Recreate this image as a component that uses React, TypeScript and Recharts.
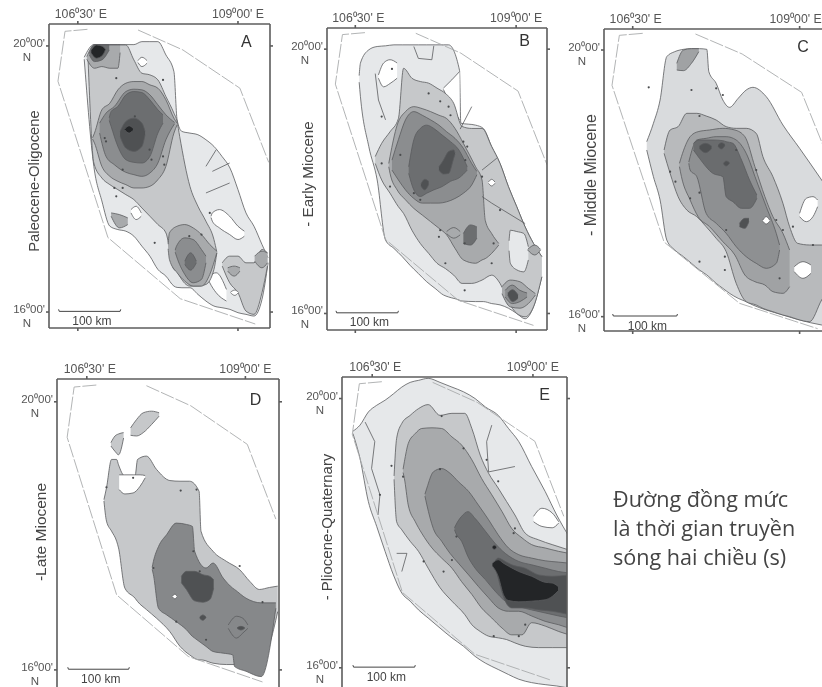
import React from 'react';
import { ComposedChart, Area, Line, XAxis, YAxis, ReferenceDot } from 'recharts';

// [longitude, lower latitude, upper latitude]
type Row = [number, number, number];
type Pt = [number, number];

const lonTicks = [106.5, 109];
const latTicks = [16, 20];
const lonLabels = ["106⁰30' E", "109⁰00' E"];
const latLabels = ["16⁰00'", "20⁰00'"];

// survey outline, the same on all five maps
const outlineEast: Pt[] = [[107.44, 20.24], [108.14, 19.94], [109.03, 19.365], [109.48, 18.25]];
const outlineWest: Pt[] = [[106.65, 20.25], [106.3, 20.22], [106.19, 19.47], [106.97, 17.12], [108.1, 16.2], [109.27, 15.82]];
const scaleBar: Pt[] = [[106.2, 16.04], [106.21, 16.01], [107.16, 16.01], [107.17, 16.04]];

const WHITE = '#ffffff';
const S1 = '#e6e8ea';
const S2 = '#c6c8ca';
const S3 = '#a8aaac';
const S4 = '#8b8d8f';
const S5 = '#6c6e70';
const S6 = '#4f5153';
const S7 = '#232527';
// panel C and D run a little darker
const C1 = '#d9dbdd';
const C2 = '#b8babc';
const C3 = '#a0a2a4';
const C4 = '#8e9092';
const C5 = '#6a6c6e';
const D2 = '#86888a';

// panel A
const a1: Row[] = [[106.6, 19.8, 19.83], [106.75, 18.19, 20.02], [106.875, 17.67, 20.02], [107, 17.29, 20.02], [107.125, 17.24, 20.02], [107.25, 17.215, 20.02], [107.375, 17.14, 20.02], [107.5, 16.99, 20.065], [107.625, 16.84, 20.065], [107.75, 16.64, 20.065], [107.875, 16.54, 19.865], [108, 16.39, 19.615], [108.05, 16.37, 18.89], [108.125, 16.365, 18.715], [108.25, 16.365, 18.69], [108.375, 16.265, 18.665], [108.5, 16.165, 18.59], [108.625, 16.09, 18.49], [108.75, 16.065, 18.34], [108.875, 16.04, 18.165], [109, 15.99, 17.84], [109.125, 15.965, 17.49], [109.25, 15.94, 17.29], [109.375, 16.19, 17.015], [109.47, 16.74, 16.815]];
const aHole1: Row[] = [[107.44, 19.75, 19.78], [107.5, 19.69, 19.83], [107.58, 19.74, 19.78]];
const aHole2: Row[] = [[107.33, 17.49, 17.54], [107.41, 17.39, 17.59], [107.49, 17.44, 17.49]];
const aHole3: Row[] = [[108.58, 17.42, 17.44], [108.6, 17.365, 17.49], [108.71, 17.265, 17.54], [108.87, 17.165, 17.44], [109, 17.09, 17.29], [109.1, 17.14, 17.215]];
const aHole4: Row[] = [[108.54, 16.48, 16.5], [108.56, 16.44, 16.54], [108.66, 16.29, 16.59], [108.82, 16.165, 16.34]];
const a2: Row[] = [[106.66, 19.79, 19.84], [106.75, 18.24, 20.015], [106.875, 18.015, 20.015], [107, 17.915, 20.015], [107.125, 17.84, 20.015], [107.25, 17.765, 20.015], [107.375, 17.69, 19.79], [107.5, 17.565, 19.59], [107.625, 17.44, 19.565], [107.75, 17.315, 19.49], [107.875, 17.19, 19.24], [108, 16.64, 18.99], [108.05, 16.615, 18.865], [108.09, 16.54, 18.64], [108.25, 16.39, 17.89], [108.375, 16.39, 17.59], [108.5, 16.415, 17.365], [108.625, 16.64, 17.09], [108.67, 16.89, 16.9]];
const a3: Row[] = [[106.73, 18.6, 18.62], [106.76, 18.54, 18.69], [106.875, 18.19, 19.04], [107, 18.04, 19.14], [107.125, 17.965, 19.34], [107.25, 17.915, 19.44], [107.375, 17.865, 19.465], [107.5, 17.865, 19.465], [107.625, 17.89, 19.415], [107.75, 17.99, 19.365], [107.875, 18.19, 19.19], [108, 18.69, 18.915], [108.05, 18.815, 18.84]];
const a4: Row[] = [[106.84, 18.69, 18.84], [106.94, 18.34, 18.99], [107.07, 18.215, 19.09], [107.25, 18.1, 19.315], [107.375, 18.065, 19.35], [107.5, 18.04, 19.34], [107.625, 18.09, 19.265], [107.75, 18.24, 19.115], [107.875, 18.59, 18.965], [108.01, 18.83, 18.85]];
const a5: Row[] = [[106.99, 18.88, 18.92], [107.02, 18.79, 19.015], [107.125, 18.49, 19.09], [107.25, 18.29, 19.265], [107.375, 18.25, 19.315], [107.5, 18.24, 19.3], [107.625, 18.34, 19.19], [107.75, 18.69, 19.04], [107.83, 18.84, 18.965]];
const a6: Row[] = [[107.16, 18.64, 18.715], [107.25, 18.465, 18.865], [107.375, 18.415, 18.915], [107.5, 18.49, 18.84], [107.55, 18.665, 18.715]];
const a7: Row[] = [[107.23, 18.74, 18.75], [107.3, 18.69, 18.8], [107.36, 18.73, 18.765]];
const aCap3: Row[] = [[106.64, 19.8, 19.84], [106.76, 19.665, 20.015], [106.875, 19.69, 20.015], [107, 19.665, 20.015], [107.125, 19.665, 20.015], [107.16, 19.9, 20.015]];
const aCap5: Row[] = [[106.68, 19.865, 19.89], [106.76, 19.765, 20.015], [106.875, 19.79, 20.015], [106.99, 19.94, 20.015]];
const aCap7: Row[] = [[106.71, 19.89, 19.94], [106.79, 19.815, 20.015], [106.89, 19.865, 19.99], [106.93, 19.94, 19.95]];
const aLow3: Row[] = [[107.91, 16.95, 17.02], [107.93, 16.79, 17.19], [108.05, 16.59, 17.29], [108.17, 16.465, 17.315], [108.3, 16.39, 17.265], [108.43, 16.39, 17.165], [108.56, 16.565, 17.015], [108.67, 16.89, 16.915]];
const aLow4: Row[] = [[108.02, 16.9, 16.93], [108.04, 16.84, 16.99], [108.17, 16.565, 17.115], [108.3, 16.44, 17.09], [108.43, 16.49, 16.94], [108.5, 16.74, 16.84]];
const aLow5: Row[] = [[108.17, 16.715, 16.765], [108.26, 16.63, 16.89], [108.35, 16.74, 16.765]];
const aEast2: Row[] = [[108.755, 16.69, 16.74], [108.87, 16.44, 16.84], [109, 16.29, 16.84], [109.125, 16.015, 16.74], [109.25, 15.965, 16.74], [109.375, 16.29, 16.94], [109.46, 16.69, 16.89]];
const aEast3: Row[] = [[109.26, 16.765, 16.84], [109.375, 16.665, 16.915], [109.46, 16.74, 16.89]];
const aRing: Row[] = [[108.84, 16.615, 16.665], [108.94, 16.54, 16.69], [109.03, 16.615, 16.665]];
const aSpot: Row[] = [[108.885, 16.29, 16.3], [108.95, 16.25, 16.33], [109.005, 16.29, 16.3]];
const aWest2: Row[] = [[107.02, 17.44, 17.49], [107.15, 17.265, 17.465], [107.28, 17.315, 17.415]];
const aLines: Pt[][] = [[[108.5, 18.19], [108.66, 18.44]], [[108.6, 18.115], [108.87, 18.24]], [[108.5, 17.79], [108.87, 17.94]]];
const aMarks: Pt[] = [[106.92, 18.615], [106.94, 18.565], [107.62, 18.44], [107.83, 18.34], [107.85, 18.215], [107.65, 18.29], [107.2, 18.14], [107.39, 18.94], [108.24, 17.14], [108.43, 17.165], [107.7, 17.04], [108.56, 17.49], [107.83, 19.49], [107.1, 19.515], [107.07, 17.865], [107.2, 17.865], [107.1, 17.74]];

// panel B
const b1: Row[] = [[106.56, 19.5, 19.6], [106.58, 19.28, 19.79], [106.71, 18.525, 19.99], [106.84, 18.02, 20.04], [106.97, 17.11, 20.05], [107.1, 16.985, 20.065], [107.23, 16.86, 20.065], [107.35, 16.73, 20.065], [107.48, 16.605, 20.065], [107.61, 16.48, 20.065], [107.74, 16.38, 20.065], [107.87, 16.28, 20.065], [107.95, 16.25, 20.065], [108.12, 16.2, 19.68], [108.14, 16.19, 18.88], [108.37, 16.18, 18.85], [108.49, 16.18, 18.8], [108.62, 16.15, 18.525], [108.75, 16.13, 18.27], [108.88, 16.08, 17.92], [109.01, 16, 17.615], [109.14, 15.92, 17.31], [109.27, 16.1, 17.06], [109.4, 16.555, 16.86]];
const bWedge: Row[] = [[107.87, 19.39, 19.41], [108, 19.13, 19.535], [108.12, 18.93, 19.66]];
const bHole: Row[] = [[106.86, 19.56, 19.61], [106.94, 19.43, 19.79], [107.04, 19.48, 19.84], [107.15, 19.56, 19.79]];
const b2: Row[] = [[106.81, 18.27, 18.375], [106.91, 18.02, 18.575], [107.04, 17.82, 18.75], [107.17, 17.615, 18.95], [107.25, 17.515, 19.71], [107.38, 17.26, 19.56], [107.51, 17.06, 19.51], [107.64, 16.91, 19.485], [107.77, 16.76, 19.41], [107.9, 16.68, 19.33], [108.03, 16.58, 19.18], [108.16, 16.455, 18.83], [108.31, 16.455, 18.8], [108.47, 16.505, 18.8], [108.62, 16.58, 18.525], [108.75, 16.455, 18.27], [108.88, 16.18, 17.92], [109.01, 16, 17.615], [109.14, 15.95, 17.31], [109.27, 16.1, 17.06], [109.4, 16.555, 16.86]];
const bLight: Row[] = [[108.89, 16.95, 17.1], [108.91, 16.76, 17.26], [109.01, 16.66, 17.24], [109.12, 16.63, 17.21], [109.19, 16.81, 17.01]];
const bRing: Row[] = [[109.18, 16.96, 16.97], [109.29, 16.885, 17.035], [109.38, 16.96, 16.97]];
const bSpot: Row[] = [[108.57, 17.97, 17.99], [108.62, 17.93, 18.03], [108.67, 17.97, 17.99]];
const b3: Row[] = [[107.02, 18.22, 18.27], [107.04, 18.12, 18.375], [107.15, 17.87, 18.85], [107.28, 17.72, 19.055], [107.41, 17.59, 19.13], [107.54, 17.49, 19.1], [107.67, 17.39, 19.055], [107.8, 17.29, 19], [107.92, 17.19, 18.95], [108.05, 16.985, 18.8], [108.18, 16.81, 18.575], [108.37, 16.76, 18.22], [108.47, 16.81, 18.02], [108.52, 16.83, 17.41], [108.62, 16.91, 17.21], [108.73, 17.035, 17.06]];
const b4: Row[] = [[107.07, 18.17, 18.32], [107.17, 18.02, 18.63], [107.28, 17.87, 18.93], [107.41, 17.74, 19.055], [107.54, 17.67, 19], [107.67, 17.67, 18.93], [107.8, 17.67, 18.85], [107.92, 17.69, 18.75], [108.05, 17.74, 18.65], [108.18, 17.82, 18.5], [108.31, 17.945, 18.27], [108.39, 18.1, 18.15]];
const b5: Row[] = [[107.33, 18.12, 18.22], [107.41, 17.87, 18.63], [107.51, 17.77, 18.8], [107.61, 17.82, 18.85], [107.72, 17.87, 18.8], [107.85, 17.92, 18.7], [107.98, 18, 18.6], [108.11, 18.05, 18.475], [108.24, 18.17, 18.22]];
const b6: Row[] = [[107.8, 18.17, 18.22], [107.87, 18.11, 18.32], [107.95, 18.12, 18.45], [108.03, 18.35, 18.475], [108.05, 18.41, 18.43]];
const b6Spot: Row[] = [[107.52, 17.93, 17.96], [107.58, 17.87, 18.03], [107.64, 17.95, 18]];
const bLow4: Row[] = [[108.18, 17.06, 17.21], [108.29, 17.035, 17.34], [108.39, 17.14, 17.31]];
const bLow3: Row[] = [[107.92, 17.21, 17.24], [108.03, 17.14, 17.3], [108.13, 17.19, 17.24]];
const bSouth3: Row[] = [[108.78, 16.3, 16.405], [108.91, 16.1, 16.505], [109.06, 16.08, 16.48], [109.19, 16.15, 16.38], [109.3, 16.28, 16.3]];
const bSouth4: Row[] = [[108.83, 16.25, 16.35], [108.94, 16.15, 16.43], [109.06, 16.18, 16.35], [109.17, 16.25, 16.31]];
const bSouth6: Row[] = [[108.87, 16.28, 16.31], [108.945, 16.18, 16.36], [109.03, 16.23, 16.28]];
const bLines: Pt[][] = [[[108.47, 18.17], [108.7, 18.35]], [[108.47, 17.77], [108.62, 17.67], [109.14, 17.36]], [[106.81, 19.63], [106.86, 19.23], [106.97, 18.93]], [[107.41, 20.04], [107.48, 19.86], [107.69, 19.84], [107.72, 20.05]], [[108.31, 19.13], [108.13, 18.79]]];
const bMarks: Pt[] = [[107.64, 19.33], [107.82, 19.21], [107.95, 19.13], [107.98, 19], [108.18, 18.6], [108.24, 18.525], [108.21, 18.32], [106.91, 18.98], [107.2, 18.4], [106.91, 18.27], [107.04, 17.92], [107.41, 17.82], [107.51, 17.72], [107.82, 17.26], [107.8, 17.16], [108.2, 17.06], [108.65, 17.06], [107.9, 16.76], [108.62, 16.76], [108.2, 16.35], [108.47, 18.07], [108.75, 17.565], [107.07, 19.7]];

// panel C
const c1: Row[] = [[106.71, 18.5, 18.625], [106.81, 18.1, 18.9], [106.91, 17.75, 19.25], [107.01, 17.15, 19.9], [107.13, 17, 19.975], [107.26, 16.9, 20.01], [107.38, 16.8, 20.02], [107.5, 16.7, 20.02], [107.61, 16.625, 20.01], [107.64, 16.6, 19.675], [107.75, 16.5, 19.5], [107.85, 16.425, 19.25], [107.95, 16.35, 19.14], [108.08, 16.275, 19.275], [108.2, 16.225, 19.4], [108.3, 16.175, 19.44], [108.5, 16.1, 19.3], [108.75, 16.025, 18.875], [109, 15.95, 18.525], [109.33, 15.875, 18.05], [109.5, 15.85, 17.8]];
const cHole: Row[] = [[109, 17.5, 17.55], [109.1, 17.425, 17.775], [109.2, 17.5, 17.8], [109.27, 17.65, 17.75]];
const c2: Row[] = [[106.97, 18.45, 18.5], [107.06, 18.15, 18.8], [107.18, 17.8, 18.85], [107.31, 17.6, 19.05], [107.46, 17.5, 19.05], [107.6, 17.35, 19.01], [107.75, 17.175, 18.95], [107.9, 16.975, 18.85], [108.05, 16.5, 18.825], [108.2, 16.225, 18.825], [108.35, 16.175, 18.75], [108.45, 16.125, 18.4], [108.6, 16.075, 18.1], [108.75, 16.025, 17.7], [108.85, 16, 17.35], [108.97, 15.96, 17.1], [109.15, 15.925, 17.075], [109.33, 16.25, 17.075], [109.5, 16.5, 17.075]];
const cHole2: Row[] = [[108.92, 16.675, 16.75], [109.05, 16.575, 16.825], [109.17, 16.65, 16.775]];
const c3: Row[] = [[107.2, 18.25, 18.3], [107.23, 18.1, 18.4], [107.36, 17.75, 18.7], [107.48, 17.5, 18.775], [107.65, 17.35, 18.8], [107.85, 17.125, 18.825], [108.03, 16.925, 18.8], [108.18, 16.625, 18.7], [108.33, 16.525, 18.25], [108.48, 16.475, 17.8], [108.6, 16.375, 17.5], [108.75, 16.35, 17.25], [108.85, 16.45, 17]];
const c4: Row[] = [[107.34, 18.3, 18.32], [107.36, 18.2, 18.4], [107.46, 18.1, 18.65], [107.6, 17.55, 18.675], [107.75, 17.4, 18.7], [107.9, 17.25, 18.7], [108.05, 17.05, 18.65], [108.2, 16.9, 18.45], [108.35, 16.8, 18.05], [108.5, 16.725, 17.65], [108.65, 16.8, 17.25], [108.7, 17, 17.075]];
const c5: Row[] = [[107.41, 18.5, 18.6], [107.5, 18.375, 18.65], [107.7, 18.15, 18.65], [107.85, 18.1, 18.64], [107.9, 17.8, 18.625], [108, 17.725, 18.6], [108.13, 17.625, 18.35], [108.25, 17.625, 18.05], [108.36, 17.775, 17.825]];
const cSpot1: Row[] = [[107.5, 18.52, 18.56], [107.59, 18.46, 18.6], [107.68, 18.52, 18.56]];
const cSpot2: Row[] = [[107.78, 18.55, 18.575], [107.83, 18.515, 18.61], [107.88, 18.565, 18.585]];
const cSpot3: Row[] = [[107.86, 18.29, 18.3], [107.9, 18.26, 18.335], [107.95, 18.3, 18.31]];
const cSpot4: Row[] = [[108.1, 17.35, 17.4], [108.18, 17.325, 17.475], [108.24, 17.425, 17.475]];
const cCap: Row[] = [[107.16, 19.7, 19.8], [107.26, 19.69, 20], [107.38, 19.8, 20.02], [107.49, 19.975, 20.02]];
const cDot: Row[] = [[108.45, 17.43, 17.45], [108.5, 17.39, 17.5], [108.55, 17.43, 17.45]];
const cMarks: Pt[] = [[107.75, 19.425], [107.85, 19.325], [106.74, 19.44], [107.38, 19.4], [107.5, 19.01], [107.06, 18.175], [107.14, 18.025], [107.36, 17.775], [107.5, 17.86], [108.35, 18.2], [108.65, 17.45], [108.75, 17.3], [108.9, 17.35], [107.88, 16.9], [107.88, 16.7], [108.7, 16.575], [107.9, 17.3], [107.5, 16.825], [109.2, 17.075], [108.05, 18.5]];

// panel D
const d1: Row[] = [[106.77, 18.52, 18.54], [106.81, 18.22, 18.715], [106.89, 18.07, 19.14], [106.97, 17.92, 19.14], [107, 17.82, 19.06], [107.1, 17.22, 18.89], [107.26, 17.07, 18.89], [107.3, 17.02, 19.14], [107.44, 16.9, 19.19], [107.6, 16.77, 18.99], [107.81, 16.57, 18.825], [107.97, 16.35, 18.815], [108.12, 16.225, 18.815], [108.27, 16.15, 18.665], [108.3, 16.15, 18.07], [108.49, 16.1, 17.77], [108.7, 16.08, 17.62], [108.91, 16.08, 17.495], [109.07, 16.08, 17.32], [109.22, 16.08, 17.2], [109.38, 16.38, 17.23], [109.51, 16.87, 17.25]];
const dNotch: Row[] = [[107.01, 18.69, 18.91], [107.1, 18.625, 18.91], [107.23, 18.64, 18.91], [107.34, 18.74, 18.91], [107.42, 18.865, 18.9]];
const dIsle1: Row[] = [[107.19, 19.5, 19.61], [107.285, 19.49, 19.736], [107.39, 19.54, 19.836], [107.52, 19.66, 19.86], [107.64, 19.786, 19.836]];
const dIsle2: Row[] = [[106.88, 19.34, 19.39], [106.945, 19.26, 19.49], [107, 19.21, 19.52], [107.08, 19.46, 19.54]];
const d2: Row[] = [[107.53, 17.5, 17.53], [107.55, 17.42, 17.62], [107.63, 16.92, 17.84], [107.76, 16.82, 18.02], [107.91, 16.72, 18.19], [108.07, 16.6, 18.17], [108.165, 16.5, 18.14], [108.2, 16.475, 17.77], [108.38, 16.35, 17.52], [108.49, 16.275, 17.595], [108.65, 16.25, 17.37], [108.8, 16.225, 17.22], [108.83, 16.05, 17.2], [109.01, 15.98, 17.07], [109.25, 15.9, 17], [109.48, 16.92, 17]];
const dRing: Row[] = [[108.73, 16.62, 16.67], [108.86, 16.475, 16.8], [108.96, 16.55, 16.77], [109.04, 16.62, 16.67]];
const d3: Row[] = [[107.99, 17.3, 17.395], [108.07, 17.2, 17.47], [108.2, 17.03, 17.47], [108.33, 17.01, 17.42], [108.44, 17.05, 17.395], [108.5, 17.22, 17.345]];
const dSpot1: Row[] = [[108.28, 16.77, 16.79], [108.33, 16.74, 16.82], [108.38, 16.78, 16.79]];
const dSpot2: Row[] = [[108.87, 16.62, 16.63], [108.93, 16.595, 16.65], [108.99, 16.62, 16.63]];
const dDot: Row[] = [[107.85, 17.09, 17.1], [107.89, 17.06, 17.13], [107.92, 17.09, 17.1]];
const dMarks: Pt[] = [[106.81, 18.725], [107.98, 18.675], [108.23, 18.69], [107.23, 18.865], [107.55, 17.52], [108.18, 17.77], [108.28, 17.47], [108.91, 17.55], [109.27, 17.01], [107.91, 16.72], [108.38, 16.45]];

// panel E
const e1: Row[] = [[106.2, 19.48, 19.515], [106.31, 19.11, 19.605], [106.44, 18.47, 19.8], [106.57, 18.1, 19.9], [106.7, 17.73, 19.975], [106.83, 17.38, 20.07], [106.96, 17.11, 20.17], [107.09, 16.99, 20.24], [107.22, 16.86, 20.27], [107.37, 16.74, 20.3], [107.555, 16.59, 20.24], [107.74, 16.445, 20.17], [107.92, 16.32, 20.1], [108.1, 16.17, 20], [108.26, 16.07, 19.875], [108.46, 15.975, 19.75], [108.62, 15.9, 19.555], [108.78, 15.83, 19.36], [108.98, 15.78, 18.99], [109.19, 15.75, 18.62], [109.37, 15.73, 18.27], [109.56, 15.7, 17.95]];
const eHole: Row[] = [[109.01, 18.17, 18.25], [109.14, 18.1, 18.37], [109.3, 18.08, 18.3], [109.4, 18.15, 18.17]];
const e2: Row[] = [[106.84, 18.8, 18.85], [106.88, 18.17, 19.41], [106.96, 18.05, 19.63], [107.09, 17.88, 19.75], [107.22, 17.73, 19.85], [107.37, 17.48, 19.91], [107.555, 17.19, 19.75], [107.74, 16.99, 19.78], [107.94, 16.79, 19.78], [108.05, 16.64, 19.555], [108.18, 16.54, 19.16], [108.31, 16.47, 18.89], [108.46, 16.445, 18.67], [108.59, 16.42, 18.47], [108.72, 16.37, 18.27], [108.88, 16.32, 18], [109.09, 16.3, 17.9], [109.3, 16.3, 17.83], [109.56, 16.3, 17.75]];
const e3: Row[] = [[106.98, 18.9, 18.95], [107, 18.815, 19.06], [107.06, 18.42, 19.33], [107.17, 18.17, 19.48], [107.27, 18, 19.555], [107.43, 17.78, 19.565], [107.58, 17.63, 19.555], [107.74, 17.48, 19.43], [107.89, 17.28, 19.31], [108.05, 17.09, 19.09], [108.2, 16.89, 18.815], [108.36, 16.74, 18.57], [108.52, 16.59, 18.32], [108.67, 16.49, 18.07], [108.83, 16.49, 17.93], [108.98, 16.67, 17.83], [109.19, 16.62, 17.78], [109.4, 16.54, 17.73], [109.56, 16.49, 17.7]];
const e4: Row[] = [[107.32, 18.55, 18.58], [107.35, 18.42, 18.67], [107.45, 18.07, 18.91], [107.58, 17.88, 18.96], [107.71, 17.7, 18.89], [107.84, 17.555, 18.765], [108, 17.38, 18.62], [108.15, 17.21, 18.42], [108.31, 17.04, 18.2], [108.46, 16.89, 17.975], [108.62, 16.84, 17.78], [108.78, 16.84, 17.68], [108.98, 16.77, 17.63], [109.19, 16.69, 17.59], [109.4, 16.64, 17.57], [109.56, 16.59, 17.555]];
const e5: Row[] = [[107.78, 18.05, 18.08], [107.8, 18, 18.12], [107.89, 17.88, 18.25], [107.99, 17.65, 18.32], [108.1, 17.48, 18.22], [108.26, 17.31, 18.03], [108.41, 17.14, 17.85], [108.57, 16.99, 17.7], [108.78, 16.91, 17.58], [108.98, 16.86, 17.53], [109.19, 16.815, 17.48], [109.4, 16.77, 17.43], [109.56, 16.74, 17.41]];
const e6: Row[] = [[108.42, 17.5, 17.6], [108.46, 17.33, 17.63], [108.57, 16.99, 17.58], [108.67, 16.89, 17.53], [108.88, 16.89, 17.48], [109.09, 16.86, 17.38], [109.3, 16.84, 17.36], [109.56, 16.79, 17.38]];
const e7: Row[] = [[108.37, 17.51, 17.555], [108.46, 17.36, 17.605], [108.54, 17.09, 17.555], [108.62, 17, 17.51], [108.78, 16.98, 17.43], [108.98, 16.99, 17.36], [109.19, 17.01, 17.27], [109.3, 17.06, 17.26], [109.39, 17.14, 17.21]];
const eDot: Row[] = [[108.37, 17.78, 17.8], [108.4, 17.76, 17.82], [108.43, 17.78, 17.8]];
const eLines: Pt[][] = [[[106.39, 19.65], [106.54, 19.36], [106.49, 18.96], [106.62, 18.57], [106.59, 18.27]], [[108.36, 19.605], [108.28, 19.36], [108.31, 18.91], [108.72, 18.99]], [[106.88, 17.7], [107.04, 17.7], [106.96, 17.43]]];
const eMarks: Pt[] = [[107.58, 19.74], [107.92, 19.26], [108.28, 19.09], [106.8, 19], [106.98, 18.84], [106.62, 18.57], [107.555, 18.95], [108.46, 18.77], [108.72, 18.07], [108.7, 18], [107.3, 17.58], [107.74, 17.6], [107.61, 17.43], [107.81, 17.95], [108.39, 16.47], [108.78, 16.47], [108.88, 16.64]];

type Layer = [Row[], string];

const panels = [
  {
    id: 'A', title: 'Paleocene-Oligocene', titleSize: 14.8, frame: [49, 24, 270, 328], lonDomain: [106.05, 109.5], latDomain: [15.76, 20.33],
    titleAt: [35, 181], letterAt: [109.13, 20.07], labelShift: [3, 0],
    layers: [[a1, S1], [aHole1, WHITE], [aHole2, WHITE], [aHole3, WHITE], [aHole4, WHITE], [a2, S2], [aWest2, S3], [aEast2, S2], [aEast3, S3], [aRing, S3], [aSpot, WHITE], [a3, S3], [a4, S4], [a5, S5], [a6, S6], [a7, S7], [aCap3, S3], [aCap5, S5], [aCap7, S7], [aLow3, S3], [aLow4, S4], [aLow5, S5]] as Layer[],
    lines: aLines, marks: aMarks,
  },
  {
    id: 'B', title: '- Early Miocene', titleSize: 15.2, frame: [327, 28, 547, 330], lonDomain: [106.06, 109.48], latDomain: [15.75, 20.32],
    titleAt: [309, 174], letterAt: [109.13, 20.13], labelShift: [3, 0],
    layers: [[b1, S1], [bWedge, WHITE], [bHole, WHITE], [b2, S2], [bLight, S1], [bRing, S3], [bSpot, WHITE], [b3, S3], [b4, S4], [b5, S5], [b6, S6], [b6Spot, S6], [bLow4, S5], [bLow3, S3], [bSouth3, S3], [bSouth4, S4], [bSouth6, S6]] as Layer[],
    lines: bLines, marks: bMarks,
  },
  {
    id: 'C', title: '- Middle Miocene', titleSize: 16, frame: [604, 29, 833, 331], lonDomain: [106.07, 109.5], latDomain: [15.785, 20.315],
    titleAt: [592, 175], letterAt: [109.05, 20.05], labelShift: [3, -4],
    layers: [[c1, C1], [cHole, WHITE], [c2, C2], [cHole2, WHITE], [cCap, C3], [c3, C3], [c4, C4], [c5, C5], [cSpot1, S6], [cSpot2, S6], [cSpot3, S6], [cSpot4, S6], [cDot, WHITE]] as Layer[],
    lines: [] as Pt[][], marks: cMarks,
  },
  {
    id: 'D', title: '-Late Miocene', titleSize: 15.5, frame: [57, 379, 279, 688], lonDomain: [106.03, 109.53], latDomain: [15.73, 20.34],
    titleAt: [42, 532], letterAt: [109.16, 20.03], labelShift: [3, 0],
    layers: [[d1, S2], [dNotch, WHITE], [dIsle1, S2], [dIsle2, S2], [d2, D2], [dRing, D2], [d3, S6], [dSpot1, S6], [dSpot2, S6], [dDot, WHITE]] as Layer[],
    lines: [] as Pt[][], marks: dMarks,
  },
  {
    id: 'E', title: '- Pliocene-Quaternary', titleSize: 15, frame: [342, 377, 567, 688], lonDomain: [106.03, 109.53], latDomain: [15.7, 20.32],
    titleAt: [328, 527], letterAt: [109.18, 20.06], labelShift: [3, 0],
    layers: [[e1, S1], [eHole, WHITE], [e2, S2], [e3, S3], [e4, S4], [e5, S5], [e6, S6], [e7, S7], [eDot, S7]] as Layer[],
    lines: eLines, marks: eMarks,
  },
];

const noteLines = ['Đường đồng mức', 'là thời gian truyền', 'sóng hai chiều (s)'];

const toBand = (rows: Row[]) => rows.map(([lon, lo, hi]) => ({ lon, band: [lo, hi] }));
const toPath = (pts: Pt[]) => pts.map(([lon, lat]) => ({ lon, lat }));

const FONT = '"Liberation Sans", Arial, sans-serif';
const AXIS = '#5c5c5c';
const INK = '#5a5c5e';

const LatTick = ({ x, y, payload }: any) => (
  <g fontFamily={FONT} fontSize={11.5} fill="#555">
    <text x={x + 1} y={y + 1} textAnchor="end">{latLabels[latTicks.indexOf(payload.value)]}</text>
    <text x={x - 17} y={y + 15} textAnchor="middle">N</text>
  </g>
);

const LonTick = ({ x, y, payload, shift }: any) => {
  const i = lonTicks.indexOf(payload.value);
  return (
    <text x={x + shift[i]} y={y - 1} textAnchor="middle" fontFamily={FONT} fontSize={12.3} fill="#555">
      {lonLabels[i]}
    </text>
  );
};

const MARGIN = { left: 50, top: 22, right: 15, bottom: 15 };

const Panel = ({ panel }: { panel: (typeof panels)[number] }) => {
  const [x0, y0, x1, y1] = panel.frame;
  const chartLeft = x0 - MARGIN.left;
  const chartTop = y0 - MARGIN.top;
  const axisIds = { xAxisId: 'top', yAxisId: 'left' };
  return (
    <div style={{ position: 'absolute', left: chartLeft, top: chartTop }}>
      <ComposedChart
        width={x1 - x0 + MARGIN.left + MARGIN.right}
        height={y1 - y0 + MARGIN.top + MARGIN.bottom}
        margin={{ top: 0, right: 0, bottom: 0, left: 0 }}
      >
        <XAxis xAxisId="top" orientation="top" dataKey="lon" type="number" domain={panel.lonDomain} allowDataOverflow ticks={lonTicks} interval={0} height={MARGIN.top} tick={<LonTick shift={panel.labelShift} />} tickSize={3} tickMargin={2} stroke={AXIS} strokeWidth={1.6} />
        <XAxis xAxisId="bottom" orientation="bottom" dataKey="lon" type="number" domain={panel.lonDomain} allowDataOverflow ticks={lonTicks} interval={0} height={MARGIN.bottom} tick={() => <g />} tickSize={3} stroke={AXIS} strokeWidth={1.6} />
        <YAxis yAxisId="left" orientation="left" type="number" domain={panel.latDomain} allowDataOverflow ticks={latTicks} interval={0} width={MARGIN.left} tick={<LatTick />} tickSize={3} tickMargin={2} stroke={AXIS} strokeWidth={1.6} />
        <YAxis yAxisId="right" orientation="right" type="number" domain={panel.latDomain} allowDataOverflow ticks={latTicks} interval={0} width={MARGIN.right} tick={() => <g />} tickSize={3} stroke={AXIS} strokeWidth={1.6} />

        {panel.layers.map(([rows, fill], i) => (
          <Area
            key={i}
            {...axisIds}
            data={toBand(rows)}
            dataKey="band"
            type="monotoneX"
            fill={fill}
            fillOpacity={1}
            stroke={INK}
            strokeWidth={0.8}
            dot={false}
            activeDot={false}
            isAnimationActive={false}
          />
        ))}
        {panel.lines.map((pts, i) => (
          <Line key={i} {...axisIds} data={toPath(pts)} dataKey="lat" type="linear" stroke={INK} strokeWidth={0.8} dot={false} activeDot={false} isAnimationActive={false} />
        ))}
        <Line {...axisIds} data={toPath(panel.marks)} dataKey="lat" type="linear" stroke="none" dot={{ r: 1.1, fill: '#4a4c4e', stroke: 'none' }} activeDot={false} isAnimationActive={false} />
        {[outlineEast, outlineWest].map((pts, i) => (
          <Line key={i} {...axisIds} data={toPath(pts)} dataKey="lat" type="linear" stroke="#a9abad" strokeWidth={0.9} strokeDasharray="14 2" dot={false} activeDot={false} isAnimationActive={false} />
        ))}
        <Line {...axisIds} data={toPath(scaleBar)} dataKey="lat" type="linear" stroke="#444" strokeWidth={1} dot={false} activeDot={false} isAnimationActive={false} />

        <ReferenceDot {...axisIds} x={106.72} y={15.87} r={0} stroke="none" label={{ value: '100 km', position: 'center', fontSize: 12, fontFamily: FONT, fill: '#444' }} />
        <ReferenceDot {...axisIds} x={panel.letterAt[0]} y={panel.letterAt[1]} r={0} stroke="none" label={{ value: panel.id, position: 'center', fontSize: 16, fontFamily: FONT, fill: '#333' }} />

        <text
          x={panel.titleAt[0] - chartLeft}
          y={panel.titleAt[1] - chartTop}
          transform={`rotate(-90 ${panel.titleAt[0] - chartLeft} ${panel.titleAt[1] - chartTop})`}
          textAnchor="middle"
          dominantBaseline="middle"
          fontFamily={FONT}
          fontSize={panel.titleSize}
          fill="#444"
        >
          {panel.title}
        </text>
      </ComposedChart>
    </div>
  );
};

export default function App() {
  return (
    <div style={{ position: 'absolute', left: 0, top: 0, width: 822, height: 687, overflow: 'hidden', background: '#fff', filter: 'blur(0.4px)' }}>
      {panels.map((p) => (
        <Panel key={p.id} panel={p} />
      ))}
      <div style={{ position: 'absolute', left: 613, top: 484, fontFamily: '"Open Sans", sans-serif', fontSize: 21.6, lineHeight: '29px', color: '#444', whiteSpace: 'nowrap' }}>
        {noteLines.map((t) => (
          <div key={t}>{t}</div>
        ))}
      </div>
    </div>
  );
}
